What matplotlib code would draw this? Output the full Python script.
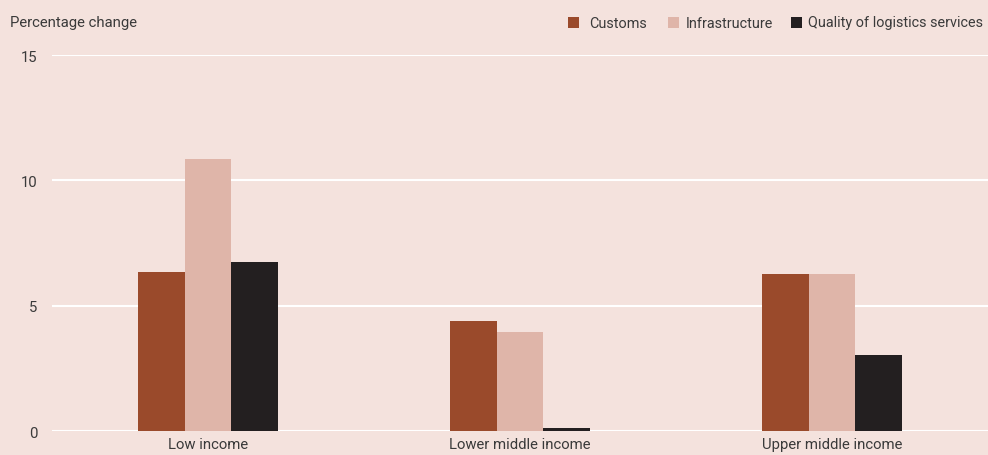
import matplotlib
matplotlib.use("Agg")
import matplotlib.pyplot as plt
from matplotlib.patches import Rectangle
import numpy as np

categories = ["Low income", "Lower middle income", "Upper middle income"]
series_names = ["Customs", "Infrastructure", "Quality of logistics services"]
customs = [6.36, 4.41, 6.28]
infrastructure = [10.87, 3.97, 6.28]
quality = [6.76, 0.15, 3.05]
yticks = [0, 5, 10, 15]

colors = ["#9A4A2B", "#DFB5A9", "#231F20"]
bg = "#F4E2DD"
txt = "#3A3A3A"
fs = 10.7

plt.rcParams['font.family'] = ['Roboto', 'DejaVu Sans']

fig = plt.figure(figsize=(9.88, 4.56), dpi=100, facecolor=bg)
W, H = 988, 456
ax = fig.add_axes([52 / W, (H - 432.3) / H, 936 / W, (432.3 - 56) / H])
ax.set_facecolor(bg)

x = np.arange(len(categories))
bw = 0.15
for i, (vals, c) in enumerate(zip([customs, infrastructure, quality], colors)):
    ax.bar(x + (i - 1) * bw, vals, width=bw, color=c, zorder=3, linewidth=0)

ax.set_xlim(-0.5, 2.5)
ax.set_ylim(0, 15)
ax.set_yticks(yticks)
ax.set_yticklabels([str(t) for t in yticks])
ax.set_xticks(x)
ax.set_xticklabels(categories)
ax.yaxis.grid(True, color="white", linewidth=1.5, zorder=1)
ax.set_axisbelow(True)
for s in ax.spines.values():
    s.set_visible(False)
ax.tick_params(axis='both', length=0, labelsize=fs, colors=txt)
ax.tick_params(axis='y', pad=10.5)
ax.tick_params(axis='x', pad=4)

fig.text(10 / W, 1 - 23 / H, "Percentage change", fontsize=fs, color=txt, va='center', ha='left')

# legend drawn manually
sq_left = [568, 668, 791]
txt_left = [589, 686, 808]
for name, c, sl, tl in zip(series_names, colors, sq_left, txt_left):
    fig.patches.append(Rectangle((sl / W, 1 - 29 / H), 11 / W, 11 / H,
                                 transform=fig.transFigure, facecolor=c, edgecolor='none'))
    fig.text(tl / W, 1 - 23.5 / H, name, fontsize=10.4, color=txt, va='center', ha='left')

fig.savefig("out.png", dpi=100, facecolor=bg)
